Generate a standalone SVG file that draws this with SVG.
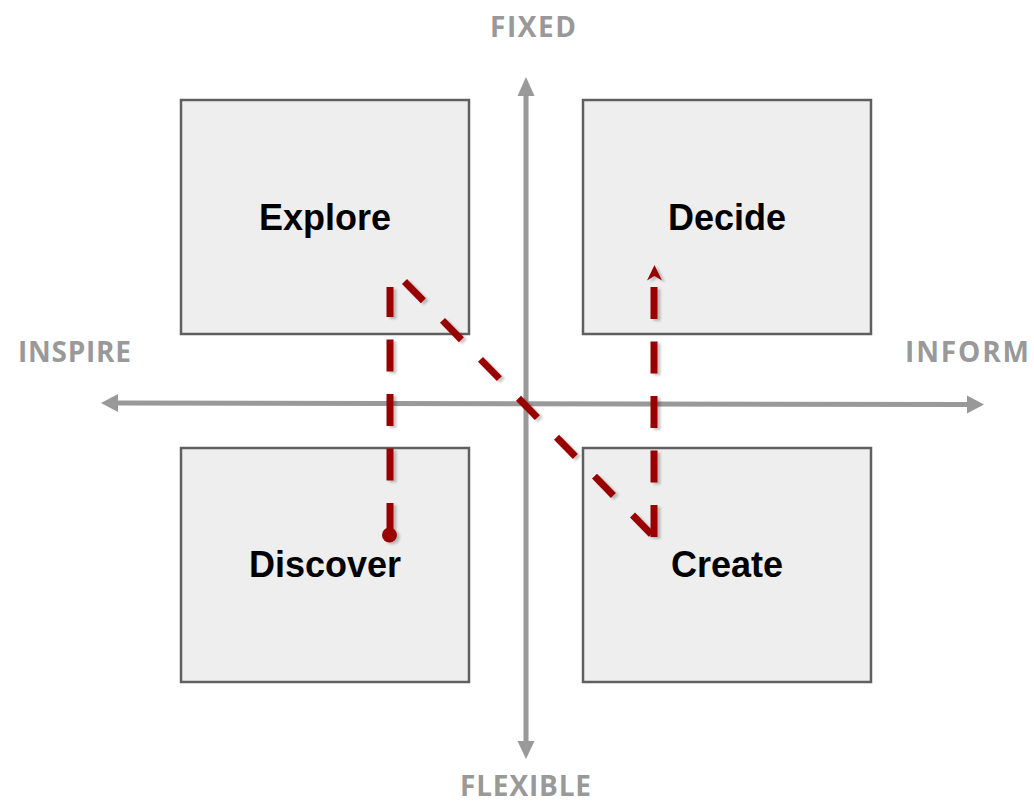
<svg xmlns="http://www.w3.org/2000/svg" width="1034" height="802" viewBox="0 0 1034 802">
<style>
.box{fill:#eeeeee;stroke:#5f5f5f;stroke-width:2.5}
.lbl{font-family:"Liberation Sans",Arial,sans-serif;font-weight:bold;font-size:36px;fill:#000;text-anchor:middle}
.ax{font-family:"Open Sans","Liberation Sans",sans-serif;font-weight:bold;font-size:28px;fill:#999999}
.axis{stroke:#999999;stroke-width:5;fill:none}
.path{stroke:#990000;stroke-width:7;fill:none}
</style>
<defs>
<filter id="sh" x="-20%" y="-20%" width="140%" height="140%">
<feDropShadow dx="3" dy="2" stdDeviation="0.8" flood-color="#000" flood-opacity="0.22"/>
</filter>
</defs>
<rect width="1034" height="802" fill="#ffffff"/>
<g id="explore"><rect class="box" x="181" y="100" width="288" height="234"/><text class="lbl" x="325" y="230">Explore</text></g>
<g id="decide"><rect class="box" x="583" y="100" width="288" height="234"/><text class="lbl" x="727" y="230">Decide</text></g>
<g id="discover"><rect class="box" x="181" y="448" width="288" height="234"/><text class="lbl" x="325" y="577">Discover</text></g>
<g id="create"><rect class="box" x="583" y="448" width="288" height="234"/><text class="lbl" x="727" y="577">Create</text></g>
<g id="axes">
<line class="axis" x1="116" y1="403" x2="968" y2="404.5"/>
<polygon fill="#999999" points="101,403 118,394 118,412"/>
<polygon fill="#999999" points="984,404.5 967,395.5 967,413.5"/>
<line class="axis" x1="526" y1="94" x2="526" y2="743"/>
<polygon fill="#999999" points="526,77 517.5,96 534.5,96"/>
<polygon fill="#999999" points="526,759 517.5,741 534.5,741"/>
</g>
<g id="axis-labels">
<text class="ax" x="490" y="37" textLength="86" lengthAdjust="spacing">FIXED</text>
<text class="ax" x="460" y="796" textLength="131" lengthAdjust="spacing">FLEXIBLE</text>
<text class="ax" x="18" y="362" textLength="113" lengthAdjust="spacing">INSPIRE</text>
<text class="ax" x="905" y="362" textLength="124" lengthAdjust="spacing">INFORM</text>
</g>
<g id="connectors" filter="url(#sh)">
<circle cx="389.5" cy="535" r="7.5" fill="#990000"/>
<line class="path" x1="390" y1="535" x2="390" y2="287" stroke-dasharray="32 22.5"/>
<line class="path" x1="404.5" y1="281.5" x2="651.5" y2="534.5" stroke-dasharray="27 27.4"/>
<line class="path" x1="654" y1="537" x2="654" y2="287" stroke-dasharray="32 22.5"/>
<polygon fill="#990000" points="654.5,265 662,280.5 654.5,276 647,280.5"/>
</g>
</svg>
